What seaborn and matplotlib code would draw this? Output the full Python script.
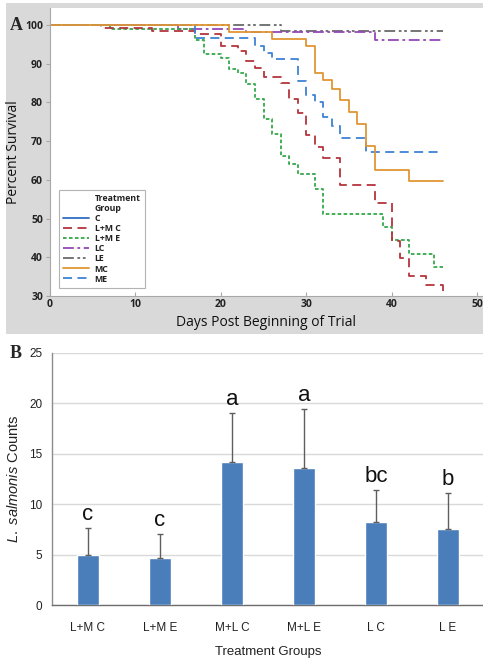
import matplotlib
matplotlib.use('Agg')
import matplotlib.pyplot as plt
import seaborn as sns
import pandas as pd
import numpy as np
from matplotlib.patches import Rectangle
from matplotlib.lines import Line2D

sns.set_theme(style='white')
plt.rcParams['font.family'] = ['Open Sans', 'DejaVu Sans']
plt.rcParams['mathtext.fontset'] = 'custom'
plt.rcParams['mathtext.it'] = 'Liberation Sans:italic'
plt.rcParams['mathtext.rm'] = 'Liberation Sans'

# ---------------- Panel A data (Kaplan-Meier style steps) ----------------
groups = ['C', 'L+M C', 'L+M E', 'LC', 'LE', 'MC', 'ME']
legend_title = ['Treatment', 'Group']

lmc_days = [0, 6, 12, 17, 20, 22, 23, 24, 25, 27, 28, 29, 30, 31, 32, 34, 38, 40, 41, 42, 44, 46]
lmc_surv = [100, 99.3, 98.4, 97.7, 94.7, 93.4, 90.8, 89.0, 86.6, 84.9, 81.0, 77.2, 71.6, 68.6, 65.7,
            58.7, 53.9, 44.3, 39.7, 35.1, 32.8, 29.0]

lme_days = [0, 7, 17, 18, 20, 21, 22, 23, 24, 25, 26, 27, 28, 29, 31, 32, 39, 40, 42, 45, 46]
lme_surv = [100, 98.9, 96.2, 92.6, 91.4, 88.6, 87.5, 84.7, 80.9, 75.6, 71.8, 66.1, 64.2, 61.4, 57.7,
            51.3, 47.9, 44.4, 40.8, 37.6, 37.6]

lc_days = [0, 15, 23, 38, 46]
lc_surv = [100, 99.0, 98.3, 96.2, 96.2]

le_days = [0, 27, 46]
le_surv = [100, 98.4, 98.4]

mc_days = [0, 21, 26, 30, 31, 32, 33, 34, 35, 36, 37, 38, 42, 46]
mc_surv = [100, 98.1, 96.4, 94.6, 87.7, 85.7, 83.5, 80.6, 77.6, 74.4, 68.7, 62.6, 59.6, 59.6]

me_days = [0, 17, 24, 25, 26, 29, 30, 31, 32, 33, 34, 37, 46]
me_surv = [100, 96.6, 94.6, 92.7, 91.2, 85.5, 81.9, 80.2, 76.3, 74.0, 70.9, 67.3, 67.3]

x_ticks_a = [0, 10, 20, 30, 40, 50]
y_ticks_a = [30, 40, 50, 60, 70, 80, 90, 100]

# ---------------- Panel B data ----------------
categories = ['L+M C', 'L+M E', 'M+L C', 'M+L E', 'L C', 'L E']
means = [5.0, 4.7, 14.2, 13.6, 8.25, 7.5]
sds = [2.65, 2.3, 4.8, 5.8, 3.15, 3.55]
letters = ['c', 'c', 'a', 'a', 'bc', 'b']
y_ticks_b = [0, 5, 10, 15, 20, 25]

# ---------------- styles ----------------
styles = {
    'C':     dict(color='#2f6fc4', ls='-'),
    'L+M C': dict(color='#b3353b', ls=(0, (5, 3))),
    'L+M E': dict(color='#34a84a', ls=(0, (2, 1.3))),
    'LC':    dict(color='#9448b8', ls=(0, (6, 2, 1.5, 2))),
    'LE':    dict(color='#6a6a6a', ls=(0, (6, 2, 1.5, 1.5, 1.5, 2))),
    'MC':    dict(color='#e09634', ls='-'),
    'ME':    dict(color='#3f82d6', ls=(0, (5, 3))),
}
series = {
    'L+M C': (lmc_days, lmc_surv),
    'L+M E': (lme_days, lme_surv),
    'LC': (lc_days, lc_surv),
    'LE': (le_days, le_surv),
    'MC': (mc_days, mc_surv),
    'ME': (me_days, me_surv),
}

NARROW = ['Liberation Sans', 'DejaVu Sans']

W, H = 483, 661
fig = plt.figure(figsize=(W / 100, H / 100), dpi=100)

# gray panel for A
bg = Rectangle((6 / W, 1 - 334 / H), 1 - 6 / W, 331 / H,
               transform=fig.transFigure, facecolor='#d9d9d9',
               edgecolor='none', zorder=-5)
fig.patches.append(bg)

axA = fig.add_axes([50 / W, 1 - 296 / H, 433 / W, 288 / H])
axA.set_zorder(2)
axA.set_facecolor('white')
order = ['LE', 'LC', 'L+M E', 'L+M C', 'ME', 'MC']
for g in order:
    d, s = series[g]
    df = pd.DataFrame({'day': d, 'surv': s})
    sns.lineplot(data=df, x='day', y='surv', ax=axA, estimator=None, sort=False,
                 drawstyle='steps-post', color=styles[g]['color'],
                 linestyle=styles[g]['ls'], linewidth=1.3, legend=False)
axA.set_xlim(0, 50.7)
axA.set_ylim(30, 104.4)
axA.set_xticks(x_ticks_a)
axA.set_yticks(y_ticks_a)
for sp in ['top', 'right']:
    axA.spines[sp].set_visible(False)
for sp in ['left', 'bottom']:
    axA.spines[sp].set_color('#a8a8a8')
    axA.spines[sp].set_linewidth(0.8)
axA.tick_params(axis='y', direction='out', length=3, width=0.8, color='#a8a8a8',
                labelsize=7.5, pad=2, left=True)
axA.tick_params(axis='x', direction='in', length=3, width=0.8, color='#a8a8a8',
                labelsize=7.5, pad=2, bottom=True)
for lab in axA.get_xticklabels() + axA.get_yticklabels():
    lab.set_fontweight('bold')
    lab.set_color('#222222')
axA.set_xlabel('Days Post Beginning of Trial', fontsize=10, color='#111111', labelpad=4)
axA.set_ylabel('Percent Survival', fontsize=10, color='#111111')
axA.yaxis.set_label_coords(-0.068, 0.5)

blank = [Line2D([0], [0], color='none') for _ in legend_title]
handles = blank + [Line2D([0], [0], color=styles[g]['color'], linestyle=styles[g]['ls'],
                          linewidth=1.3) for g in groups]
leg = axA.legend(handles, legend_title + groups, loc='lower left',
                 bbox_to_anchor=(0.02, 0.028), borderaxespad=0, fontsize=6.3,
                 handlelength=3.0, handletextpad=0.6,
                 labelspacing=0.12, frameon=True, fancybox=False, borderpad=0.5)
leg.get_frame().set_edgecolor('#a0a0a0')
leg.get_frame().set_linewidth(0.8)
for t in leg.get_texts():
    t.set_fontweight('bold')
    t.set_color('#222222')

fig.text(10 / W, 1 - 25 / H, 'A', fontsize=13, fontweight='bold',
         family='Liberation Serif', va='center', ha='left', zorder=5)

# ---------------- Panel B ----------------
axB = fig.add_axes([52 / W, 1 - 605 / H, 432 / W, 252.3 / H])
dfB = pd.DataFrame({'group': categories, 'count': means})
sns.barplot(data=dfB, x='group', y='count', ax=axB, color='#4a7ebb', width=0.31,
            saturation=1, errorbar=None, zorder=3)
axB.errorbar(x=np.arange(len(categories)), y=means, yerr=[np.zeros(len(sds)), sds],
             fmt='none', ecolor='#5e5e5e', elinewidth=1.0, capsize=2.5, capthick=1.0, zorder=4)
for i, (m, s, l) in enumerate(zip(means, sds, letters)):
    axB.text(i, m + s + 0.8, l, ha='center', va='baseline', fontsize=16,
             family=NARROW, color='#111111')
axB.set_ylim(0, 25)
axB.set_xlim(-0.5, 5.5)
axB.set_yticks(y_ticks_b)
axB.yaxis.grid(True, color='#d9d9d9', linewidth=1.0)
axB.set_axisbelow(True)
for sp in ['top', 'right']:
    axB.spines[sp].set_visible(False)
axB.spines['left'].set_color('#8c8c8c')
axB.spines['bottom'].set_color('#6e6e6e')
axB.spines['left'].set_linewidth(1.0)
axB.spines['bottom'].set_linewidth(1.0)
axB.tick_params(axis='x', length=0, labelsize=8.5, pad=12)
axB.tick_params(axis='y', length=0, labelsize=8.5, pad=7)
for lab in axB.get_xticklabels() + axB.get_yticklabels():
    lab.set_family(NARROW)
    lab.set_color('#222222')
axB.set_xlabel('Treatment Groups', fontsize=9.5, family=NARROW,
               color='#222222', labelpad=9)
axB.set_ylabel(r'$\it{L.\ salmonis}$ Counts', fontsize=10.5,
               family=NARROW, color='#222222')
axB.yaxis.set_label_coords(-0.072, 0.5)

fig.text(10 / W, 1 - 353 / H, 'B', fontsize=13, fontweight='bold',
         family='Liberation Serif', va='center', ha='left')

fig.savefig('out.png', dpi=100)
